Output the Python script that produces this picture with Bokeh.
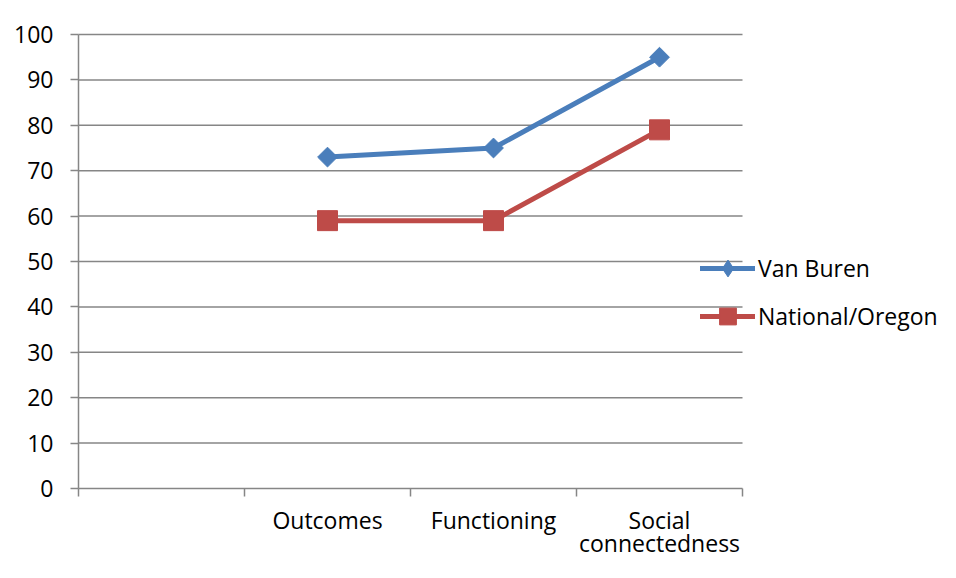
import numpy as np
from bokeh.plotting import figure
from bokeh.models import FixedTicker, Legend, LegendItem, Range1d
from bokeh.core.properties import value
from bokeh.embed import file_html
from bokeh.resources import INLINE

categories = ["", "Outcomes", "Functioning", "Social connectedness"]
van_buren = [np.nan, 73, 75, 95]
national_oregon = [np.nan, 59, 59, 79]
y_ticks = list(range(0, 101, 10))

n_cat = len(categories)
x_centers = [i + 0.5 for i in range(n_cat)]
x_bounds = list(range(n_cat + 1))
# category labels wrap onto two lines like the original
label_line1 = [c.split(" ", 1)[0] for c in categories]
label_line2 = [c.split(" ", 1)[1] if " " in c else "" for c in categories]

FONT = "Open Sans"
GRID = "#868686"
BLUE = "#4A7EBB"
RED = "#BE4B48"

# ---- layout in pixels (figure coordinates) ----
W, H = 940, 562
X0_PX, X_END_PX = 78, 742      # category area left/right
Y0_PX, Y100_PX = 488, 34       # value 0 / value 100
LEFT, TOP = 76, 32             # frame left / top
px_x = (X_END_PX - X0_PX) / n_cat
px_y = (Y0_PX - Y100_PX) / 100.0
x_start = -(X0_PX - LEFT) / px_x
x_end = (W - X0_PX) / px_x
y_start = -(H - Y0_PX) / px_y
y_end = 100 + (Y100_PX - TOP) / px_y
tick_len = 8 / px_y
line1_off = 31 / px_y
line2_off = 54 / px_y

p = figure(width=W, height=H, output_backend="svg", toolbar_location=None,
           x_range=Range1d(x_start, x_end), y_range=Range1d(y_start, y_end),
           x_axis_location=None,
           min_border_left=LEFT, min_border_right=0, min_border_top=TOP,
           min_border_bottom=0)
p.outline_line_color = None
p.background_fill_color = "white"
p.border_fill_color = "white"
p.xgrid.grid_line_color = None
p.ygrid.grid_line_color = None

# y axis: ticks + labels; its line is drawn as a segment from 0 to 100
p.yaxis.ticker = FixedTicker(ticks=y_ticks)
p.yaxis.axis_line_color = None
p.yaxis.major_tick_line_color = GRID
p.yaxis.major_tick_line_width = 1.5
p.yaxis.major_tick_out = 6
p.yaxis.major_tick_in = 2
p.yaxis.minor_tick_line_color = None
p.yaxis.major_label_text_font = FONT
p.yaxis.major_label_text_font_size = "23px"
p.yaxis.major_label_text_color = "black"
p.yaxis.major_label_standoff = 17

# horizontal gridlines (0 line = category axis line)
p.segment(x0=[0] * len(y_ticks), y0=y_ticks, x1=[n_cat] * len(y_ticks), y1=y_ticks,
          line_color=GRID, line_width=1.5)
# value axis line
p.segment(x0=[0], y0=[y_ticks[0]], x1=[0], y1=[y_ticks[-1]], line_color=GRID, line_width=1.5)
# category boundary tick marks
p.segment(x0=x_bounds, y0=[0] * len(x_bounds), x1=x_bounds, y1=[-tick_len] * len(x_bounds),
          line_color=GRID, line_width=1.5)
# category labels (two rows)
for labels, off in ((label_line1, line1_off), (label_line2, line2_off)):
    p.text(x=x_centers, y=[-off] * n_cat, text=labels,
           text_font=value(FONT), text_font_size="23px", text_color="black",
           text_align="center", text_baseline="middle")

l1 = p.line(x_centers, van_buren, line_color=BLUE, line_width=5, line_cap="round", line_join="round")
m1 = p.scatter(x_centers, van_buren, marker="square", size=14, angle=np.pi / 4,
               fill_color=BLUE, line_color=BLUE, line_width=1)
l2 = p.line(x_centers, national_oregon, line_color=RED, line_width=5, line_cap="round", line_join="round")
m2 = p.scatter(x_centers, national_oregon, marker="square", size=20,
               fill_color=RED, line_color=RED, line_width=1)
# legend-only diamond symbol (not plotted: NaN position)
legend_diamond = p.scatter(x=[np.nan], y=[np.nan], marker="diamond",
                           fill_color=BLUE, line_color=BLUE)

legend = Legend(items=[LegendItem(label="Van Buren", renderers=[l1, legend_diamond]),
                       LegendItem(label="National/Oregon", renderers=[l2, m2])],
                location=(700 - LEFT, H - 337), padding=0, margin=0,
                border_line_color=None, background_fill_alpha=0,
                glyph_width=55, glyph_height=42, label_height=42, spacing=6,
                label_standoff=3, label_text_font=FONT, label_text_font_size="23px",
                label_text_color="black")
p.add_layout(legend, "center")

open("out.html", "w").write(file_html(p, INLINE))
